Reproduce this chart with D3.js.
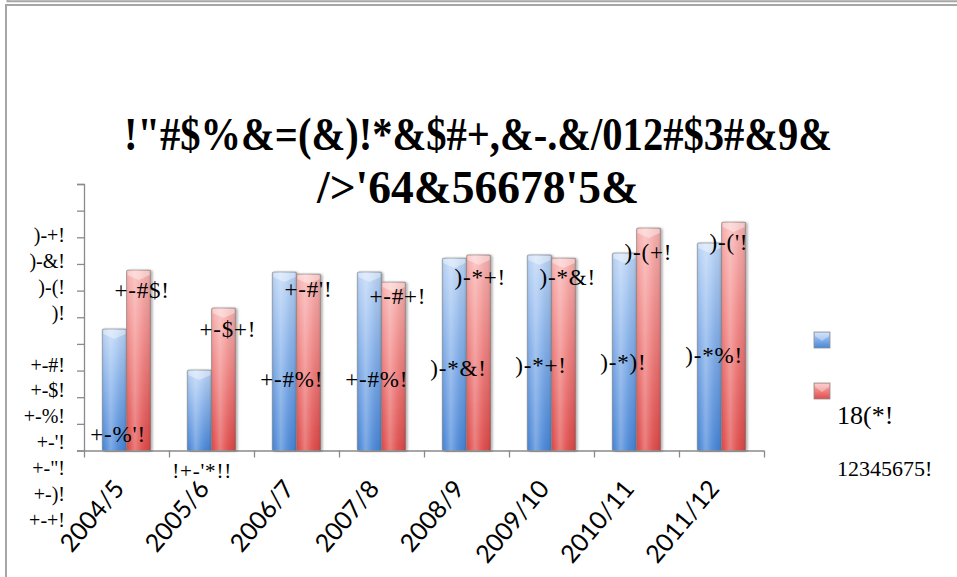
<!DOCTYPE html>
<html>
<head>
<meta charset="utf-8">
<script src="https://cdn.jsdelivr.net/npm/d3@7/dist/d3.min.js"></script>
<style>
  html, body { margin: 0; padding: 0; background: #ffffff; }
  svg { display: block; }
</style>
</head>
<body>
<svg id="chart" width="957" height="577"></svg>
<script>
// ---- data -------------------------------------------------------------
const categories = ["2004/5", "2005/6", "2006/7", "2007/8", "2008/9", "2009/10", "2010/11", "2011/12"];
const seriesBlue = [4.56, 3.02, 6.70, 6.70, 7.22, 7.34, 7.41, 7.79];
const seriesRed  = [6.77, 5.35, 6.62, 6.32, 7.34, 7.22, 8.35, 8.57];
const labelsBlue = ["+-%'!", "!+-'*!!", "+-#%!", "+-#%!", ")-*&!", ")-*+!", ")-*)!", ")-*%!"];
const labelsRed  = ["+-#$!", "+-$+!", "+-#'!", "+-#+!", ")-*+!", ")-*&!", ")-(+!", ")-('!"];
const yTickLabels = [")-+!", ")-&!", ")-(!", ")!", "", "+-#!", "+-$!", "+-%!", "+-'!", "+-\"!", "+-)!", "+-+!"];
const titleLines = ["!\"#$%&=(&)!*&$#+,&-.&/012#$3#&9&", "/>'64&56678'5&"];
const seriesNames = ["", "18(*!"];
const legendNote = "12345675!";

// ---- layout -------------------------------------------------------------
const W = 957, H = 577;
const plot = { left: 84, right: 764, top: 184, bottom: 450.5 };
const yMax = 10;
// label offsets (px): red labels from bar top, blue labels from bar middle
const redLabelDy  = [28, 29, 23, 22, 30, 27, 32, 28];
const blueLabelDy = [52, 68, 26, 26, 22, 20, 18, 16];

const svg = d3.select("#chart");
const defs = svg.append("defs");

function barGradient(id, top, mid, bottom) {
  const g = defs.append("linearGradient").attr("id", id)
    .attr("x1", 0).attr("y1", 0).attr("x2", 0).attr("y2", 1);
  g.append("stop").attr("offset", "0%").attr("stop-color", top);
  g.append("stop").attr("offset", "45%").attr("stop-color", mid);
  g.append("stop").attr("offset", "100%").attr("stop-color", bottom);
}
barGradient("gBlue", "#bcd5f6", "#86b1ea", "#4a87d8");
barGradient("gRed",  "#f8b4b2", "#f08584", "#e04c4b");

const sheen = defs.append("linearGradient").attr("id", "sheen")
  .attr("x1", 0).attr("y1", 0).attr("x2", 1).attr("y2", 0);
[["0%", "#000", 0.10], ["12%", "#fff", 0.05], ["35%", "#fff", 0.28], ["60%", "#fff", 0.08], ["88%", "#000", 0.05], ["100%", "#000", 0.16]]
  .forEach(([o, c, a]) => sheen.append("stop").attr("offset", o).attr("stop-color", c).attr("stop-opacity", a));

const shadow = defs.append("filter").attr("id", "shadow")
  .attr("x", "-30%").attr("y", "-10%").attr("width", "160%").attr("height", "120%");
shadow.append("feDropShadow").attr("dx", 1.5).attr("dy", 0.5).attr("stdDeviation", 1.2)
  .attr("flood-color", "#000").attr("flood-opacity", 0.35);

// ---- frame ----------------------------------------------------------------
svg.append("path").attr("d", `M7.5,0 V1.2 H${W}`)
  .attr("fill", "none").attr("stroke", "#a6a6a6").attr("stroke-width", 2);
svg.append("path").attr("d", `M6,${H} V5 H${W}`)
  .attr("fill", "none").attr("stroke", "#a6a6a6").attr("stroke-width", 2);

// ---- scales ---------------------------------------------------------------
const x = d3.scaleBand().domain(categories).range([plot.left, plot.right])
  .paddingInner(0.43).paddingOuter(0.215);
const xs = d3.scaleBand().domain([0, 1]).range([0, x.bandwidth()]);
const y = d3.scaleLinear().domain([0, yMax]).range([plot.bottom, plot.top]);

// ---- title -----------------------------------------------------------------
const title = svg.append("g")
  .attr("font-family", "'Liberation Serif', 'DejaVu Serif', serif")
  .attr("font-weight", "bold").attr("font-size", 47).attr("fill", "#000");
const titleWidths = [708, 322];
const titleBaselines = [150, 203];
titleLines.forEach((t, i) => {
  title.append("text").attr("x", 478).attr("y", titleBaselines[i])
    .attr("text-anchor", "middle")
    .attr("textLength", titleWidths[i]).attr("lengthAdjust", "spacingAndGlyphs")
    .text(t);
});

// ---- axes -----------------------------------------------------------------
const axisColor = "#8a8a8a";
const yAxis = svg.append("g").attr("transform", `translate(${plot.left},0)`)
  .call(d3.axisLeft(y).ticks(yMax).tickSize(7).tickFormat(""));
yAxis.select(".domain").attr("stroke", axisColor).attr("stroke-width", 1.3);
yAxis.selectAll(".tick line").attr("stroke", axisColor).attr("stroke-width", 1.3);

const xAxis = svg.append("g").attr("transform", `translate(0,${plot.bottom})`)
  .call(d3.axisBottom(d3.scaleLinear().domain([0, categories.length]).range([plot.left, plot.right]))
    .ticks(categories.length).tickSize(7).tickFormat(""));
xAxis.select(".domain").attr("stroke", axisColor).attr("stroke-width", 1.3)
  .attr("d", `M${plot.left},0.5H${plot.right}`);
xAxis.selectAll(".tick line").attr("stroke", axisColor).attr("stroke-width", 1.3);

// y tick label column
const yLab = d3.scalePoint().domain(d3.range(yTickLabels.length)).range([242, 527]);
svg.append("g").attr("font-family", "'Liberation Serif', serif").attr("font-size", 20).attr("fill", "#000")
  .selectAll("text").data(yTickLabels).join("text")
  .attr("x", 65).attr("y", (d, i) => yLab(i)).attr("text-anchor", "end")
  .text(d => d);

// category labels
svg.append("g").attr("font-family", "Lato, 'Liberation Sans', sans-serif").attr("font-size", 25).attr("fill", "#000")
  .selectAll("text").data(categories).join("text")
  .attr("transform", d => `translate(${x(d) + x.bandwidth() / 2 - 1},${plot.bottom + 39}) rotate(-50)`)
  .attr("text-anchor", "end")
  .text(d => d);

// ---- bars -----------------------------------------------------------------
const rows = categories.map((c, i) => ({ c, i, vals: [seriesBlue[i], seriesRed[i]] }));
const fills = ["url(#gBlue)", "url(#gRed)"];

const barG = svg.append("g").selectAll("g").data(rows).join("g")
  .attr("transform", d => `translate(${x(d.c)},0)`);

const bar = barG.selectAll("g").data(d => d.vals.map((v, s) => ({ v, s }))).join("g");
bar.append("rect")
  .attr("x", d => xs(d.s)).attr("width", xs.bandwidth())
  .attr("y", d => y(d.v)).attr("height", d => y(0) - y(d.v))
  .attr("rx", 1.5)
  .attr("fill", d => fills[d.s])
  .attr("stroke", "#8e8e8e").attr("stroke-opacity", 0.7).attr("stroke-width", 0.9)
  .attr("filter", "url(#shadow)");
bar.append("rect")
  .attr("x", d => xs(d.s)).attr("width", xs.bandwidth())
  .attr("y", d => y(d.v)).attr("height", d => y(0) - y(d.v))
  .attr("fill", "url(#sheen)");
// bevelled cap on each bar top
bar.append("path")
  .attr("d", d => {
    const x0 = xs(d.s) + 1, x1 = xs(d.s) + xs.bandwidth() - 1, xm = (x0 + x1) / 2, t = y(d.v) + 1;
    return `M${x0},${t}H${x1}V${t + 4}L${xm},${t + 9}L${x0},${t + 4}Z`;
  })
  .attr("fill", "#fff").attr("fill-opacity", 0.38);

// ---- value labels -------------------------------------------------------
const lab = svg.append("g").attr("font-family", "'Liberation Serif', serif").attr("font-size", 23)
  .attr("letter-spacing", 0.8).attr("fill", "#000");
rows.forEach(r => {
  const xb = x(r.c) + xs(0), xr = x(r.c) + xs(1);
  const midBlue = (y(seriesBlue[r.i]) + y(0)) / 2;
  lab.append("text").attr("x", xb - 12 - (r.i === 1 ? 3 : 0)).attr("y", midBlue + blueLabelDy[r.i])
    .attr("font-size", r.i === 1 ? 21 : 23).text(labelsBlue[r.i]);
  lab.append("text").attr("x", xr - 12).attr("y", y(seriesRed[r.i]) + redLabelDy[r.i]).text(labelsRed[r.i]);
});

// ---- legend ---------------------------------------------------------------
const legend = svg.append("g").attr("transform", "translate(814,332)");
const legendRows = [0, 51];
legendRows.forEach((dy, s) => {
  legend.append("rect").attr("x", 0).attr("y", dy).attr("width", 16).attr("height", 16)
    .attr("fill", fills[s]).attr("stroke", "#8e8e8e").attr("stroke-width", 0.8);
  legend.append("path").attr("d", `M1,${dy + 1}H15V${dy + 4}L8,${dy + 9}L1,${dy + 4}Z`)
    .attr("fill", "#fff").attr("fill-opacity", 0.35);
  if (seriesNames[s]) {
    legend.append("text").attr("x", 23).attr("y", dy + 41)
      .attr("font-family", "'Liberation Serif', serif").attr("font-size", 26).text(seriesNames[s]);
  }
});
legend.append("text").attr("x", 23).attr("y", 144)
  .attr("font-family", "'Liberation Serif', serif").attr("font-size", 22).text(legendNote);
</script>
</body>
</html>
